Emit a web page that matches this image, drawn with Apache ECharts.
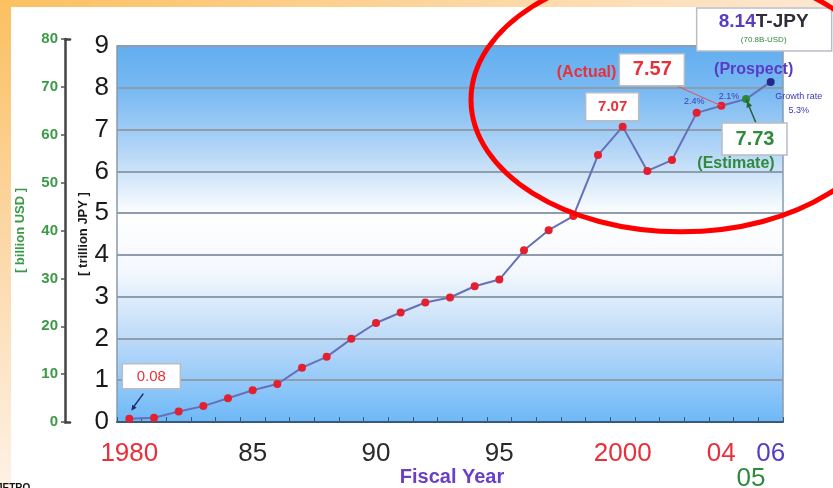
<!DOCTYPE html>
<html>
<head>
<meta charset="utf-8">
<script src="https://cdn.jsdelivr.net/npm/echarts@6/dist/echarts.min.js"></script>
<style>
html, body { margin: 0; padding: 0; background: #fff; }
#chart { width: 833px; height: 488px; }
</style>
</head>
<body>
<div id="chart"></div>
<script>
// Fiscal years and sales (trillion JPY)
const years = ['1980','1981','1982','1983','1984','1985','1986','1987','1988','1989',
               '1990','1991','1992','1993','1994','1995','1996','1997','1998','1999',
               '2000','2001','2002','2003','2004','2005','2006'];
const sales = [0.08, 0.10, 0.25, 0.38, 0.57, 0.76, 0.91, 1.30, 1.56, 1.99,
               2.37, 2.62, 2.86, 2.98, 3.25, 3.41, 4.11, 4.59, 4.93, 6.39,
               7.07, 6.01, 6.27, 7.40, 7.57, 7.73, 8.14];
const estimateYear = '2005';
const prospectYear = '2006';

// Year tick labels along the bottom and their colour style
const tickYears = ['1980', '1985', '1990', '1995', '2000', '2004', '2005', '2006'];
const tickText  = ['1980', '85', '90', '95', '2000', '04', '05', '06'];
const tickStyle = ['r', 'k', 'k', 'k', 'r', 'r', 'g', 'p'];

// Left-hand scales
const jpyMax = 9;
const usdMax = 80;

// Callouts
const prospectUsd = '(70.8B-USD)';
const growthRates = ['2.4%', '2.1%', '5.3%'];

const FONT = '"Liberation Sans", Arial, sans-serif';
const RED = '#e8303a';
const GREEN = '#2f8a3c';
const PURPLE = '#5a3cc4';

const chart = echarts.init(document.getElementById('chart'), null, { renderer: 'canvas' });

const pointColor = (y) => y === estimateYear ? '#2a8a3a' : (y === prospectYear ? '#26288c' : '#e4202e');

const option = {
  animation: false,
  backgroundColor: '#ffffff',
  textStyle: { fontFamily: FONT },
  grid: [
    {
      left: 117, right: 50, top: 46, bottom: 66,
      outerBoundsMode: 'none',
      containLabel: false,
      show: true,
      borderColor: '#8a9aaa',
      borderWidth: 1.5,
      backgroundColor: {
        type: 'linear', x: 0, y: 0, x2: 0, y2: 1,
        colorStops: [
          { offset: 0, color: '#62aef0' },
          { offset: 0.12, color: '#78b9f2' },
          { offset: 0.28, color: '#b4d6f6' },
          { offset: 0.45, color: '#ffffff' },
          { offset: 0.6, color: '#f4f8fe' },
          { offset: 0.78, color: '#bcdaf8' },
          { offset: 1, color: '#6cb8f8' }
        ]
      }
    },
    { left: 65, width: 5, top: 39, bottom: 66, outerBoundsMode: 'none', containLabel: false }
  ],
  xAxis: [
    {
      type: 'category',
      gridIndex: 0,
      data: years,
      boundaryGap: true,
      axisLine: { lineStyle: { color: '#3b5878', width: 2 } },
      axisTick: { show: true, inside: true, length: 5, interval: 0, lineStyle: { color: '#3b5878', width: 1 } },
      axisLabel: {
        interval: 0,
        margin: 19,
        formatter: (v) => {
          const k = tickYears.indexOf(v);
          return k < 0 ? '' : '{' + tickStyle[k] + '|' + tickText[k] + '}';
        },
        rich: {
          r: { color: RED, fontSize: 26, fontFamily: FONT },
          k: { color: '#2a2a2a', fontSize: 26, fontFamily: FONT },
          g: { color: GREEN, fontSize: 26, fontFamily: FONT, padding: [25, 0, 0, 10] },
          p: { color: PURPLE, fontSize: 26, fontFamily: FONT }
        }
      },
      name: 'Fiscal Year',
      nameLocation: 'middle',
      nameGap: 45,
      nameMoveOverlap: false,
      nameTextStyle: { color: '#6a3ec8', fontSize: 20, fontWeight: 'bold', fontFamily: FONT, padding: [0, 0, 0, 4] }
    },
    {
      type: 'value', gridIndex: 1, position: 'bottom',
      axisLine: { show: true, onZero: false, lineStyle: { color: '#444', width: 2.5 } },
      axisTick: { show: false }, axisLabel: { show: false }, splitLine: { show: false }
    },
    {
      type: 'value', gridIndex: 1, position: 'top',
      axisLine: { show: true, onZero: false, lineStyle: { color: '#444', width: 2.5 } },
      axisTick: { show: false }, axisLabel: { show: false }, splitLine: { show: false }
    }
  ],
  yAxis: [
    {
      type: 'value',
      gridIndex: 0,
      min: 0, max: jpyMax, interval: 1,
      axisLine: { show: false },
      axisTick: { show: false },
      axisLabel: { color: '#1a1a1a', fontSize: 26, margin: 8, fontFamily: FONT },
      splitLine: { lineStyle: { color: '#8e9cab', width: 2 } },
      name: '[ trillion JPY ]',
      nameLocation: 'middle',
      nameRotate: 90,
      nameGap: 27,
      nameMoveOverlap: false,
      nameTextStyle: { color: '#1a1a1a', fontSize: 13, fontWeight: 'bold', fontFamily: FONT }
    },
    {
      type: 'value',
      gridIndex: 1,
      position: 'left',
      min: 0, max: usdMax, interval: 10,
      axisLine: { show: true, onZero: false, lineStyle: { color: '#444', width: 2.5 } },
      axisTick: { show: true, length: 4, lineStyle: { color: '#555', width: 1.5 } },
      axisLabel: { color: '#3c9a46', fontSize: 15, fontWeight: 'bold', margin: 7, fontFamily: FONT },
      splitLine: { show: false },
      name: '[ billion USD ]',
      nameLocation: 'middle',
      nameRotate: 90,
      nameGap: 38,
      nameMoveOverlap: false,
      nameTextStyle: { color: '#3c9a46', fontSize: 13, fontWeight: 'bold', fontFamily: FONT }
    }
  ],
  series: [
    {
      type: 'line',
      xAxisIndex: 0,
      yAxisIndex: 0,
      data: sales.map((v, i) => ({ value: v, itemStyle: { color: pointColor(years[i]) } })),
      symbol: 'circle',
      symbolSize: 8,
      lineStyle: { color: '#6670b8', width: 2 },
      itemStyle: { borderWidth: 0 },
      z: 5
    }
  ]
};

chart.setOption(option);

// Callouts placed relative to the plotted points
function pt(year) {
  const i = years.indexOf(year);
  return chart.convertToPixel({ gridIndex: 0 }, [year, sales[i]]);
}
function box(x, y, w, h) {
  return { type: 'rect', shape: { x: x, y: y, width: w, height: h },
           style: { fill: '#ffffff', stroke: '#b8bcc4', lineWidth: 1.5 }, z: 20 };
}
function label(x, y, text, fill, size, weight, align) {
  return { type: 'text', x: x, y: y, z: 21,
           style: { text: text, fill: fill, font: (weight || 'bold') + ' ' + size + 'px ' + FONT,
                    align: align || 'center', verticalAlign: 'middle' } };
}
function line(x1, y1, x2, y2, color, w) {
  return { type: 'line', shape: { x1: x1, y1: y1, x2: x2, y2: y2 }, z: 19,
           style: { stroke: color, lineWidth: w || 1.5 } };
}
function head(x, y, fromX, fromY, color, size) {
  const a = Math.atan2(y - fromY, x - fromX);
  const s = size || 6;
  return { type: 'polygon', z: 22,
           shape: { points: [[x, y],
                             [x - s * Math.cos(a - 0.45), y - s * Math.sin(a - 0.45)],
                             [x - s * Math.cos(a + 0.45), y - s * Math.sin(a + 0.45)]] },
           style: { fill: color } };
}

const p80 = pt('1980');
const p00 = pt('2000');
const p02 = pt('2002');
const p03 = pt('2003');
const p04 = pt('2004');
const p05 = pt('2005');
const p06 = pt('2006');

const fmt = (v) => v.toFixed(2);

const graphic = [
  // page frame tint
  { type: 'rect', shape: { x: 0, y: 0, width: 833, height: 7 }, z: -10, silent: true,
    style: { fill: { type: 'linear', x: 0, y: 0, x2: 1, y2: 0,
      colorStops: [{ offset: 0, color: '#fbc060' }, { offset: 0.5, color: '#fcd49a' }, { offset: 1, color: '#fde8d2' }] } } },
  { type: 'rect', shape: { x: 0, y: 0, width: 11, height: 488 }, z: -10, silent: true,
    style: { fill: { type: 'linear', x: 0, y: 0, x2: 0, y2: 1,
      colorStops: [{ offset: 0, color: '#fbc060' }, { offset: 0.5, color: '#fcd8a8' }, { offset: 1, color: '#fdf2e6' }] } } },

  // 1980 callout
  box(p80[0] - 7, p80[1] - 55, 58, 25),
  label(p80[0] + 22, p80[1] - 42, fmt(sales[0]), RED, 15, 'normal'),
  line(p80[0] + 14, p80[1] - 25, p80[0] + 3, p80[1] - 10, '#1c2c6a', 1.5),
  head(p80[0] + 2, p80[1] - 8, p80[0] + 14, p80[1] - 25, '#1c2c6a', 6),

  // 2000 peak
  box(p00[0] - 37, p00[1] - 34, 53, 28),
  label(p00[0] - 10, p00[1] - 20, fmt(sales[years.indexOf('2000')]), RED, 15),

  // 2004 actual
  line(p04[0] - 54, p04[1] - 24, p04[0], p04[1], '#e05060', 1),
  box(p04[0] - 102, p04[1] - 52, 65, 32),
  label(p04[0] - 69, p04[1] - 36, fmt(sales[years.indexOf('2004')]), RED, 20),
  label(p04[0] - 105, p04[1] - 33, '(Actual)', RED, 16, 'bold', 'right'),
  label(p04[0] - 27, p04[1] - 4, growthRates[0], '#3a3ab8', 9, 'normal'),

  // 2005 estimate
  line(p05[0], p05[1], p05[0] + 10, p05[1] + 24, '#2a5a3a', 1.5),
  head(p05[0] + 1, p05[1] + 2, p05[0] + 10, p05[1] + 24, '#1f6a2f', 7),
  box(p05[0] - 24, p05[1] + 24, 65, 32),
  label(p05[0] + 9, p05[1] + 40, fmt(sales[years.indexOf('2005')]), GREEN, 20),
  label(p05[0] - 10, p05[1] + 65, '(Estimate)', GREEN, 16),
  label(p05[0] - 17, p05[1] - 3, growthRates[1], '#3a3ab8', 9, 'normal'),

  // 2006 prospect
  label(p06[0] - 17, p06[1] - 12, '(Prospect)', PURPLE, 16),
  box(p06[0] - 74, p06[1] - 74, 135, 43),
  { type: 'text', x: p06[0] - 7, y: p06[1] - 60, z: 21,
    style: { text: '{a|' + fmt(sales[years.indexOf('2006')]) + '}{b|T-JPY}', align: 'center', verticalAlign: 'middle',
             rich: { a: { fill: PURPLE, font: 'bold 19px ' + FONT }, b: { fill: '#2e2e3a', font: 'bold 19px ' + FONT } } } },
  label(p06[0] - 7, p06[1] - 42, prospectUsd, GREEN, 8, 'normal'),
  label(p06[0] + 28, p06[1] + 15, 'Growth rate', '#3a3ab8', 9, 'normal'),
  label(p06[0] + 28, p06[1] + 29, growthRates[2], '#3a3ab8', 9, 'normal'),

  // highlight ring around the recent years
  { type: 'ellipse', z: 30, silent: true,
    shape: { cx: p02[0] + 9, cy: p03[1] - 13, rx: 210, ry: 132 },
    style: { fill: null, stroke: '#ff0000', lineWidth: 5 } },

  // source note
  { type: 'text', x: -3, y: 483, z: 21,
    style: { text: 'JETRO', fill: '#111', font: 'bold 10px ' + FONT, align: 'left', verticalAlign: 'top' } }
];

chart.setOption({ graphic: graphic });
</script>
</body>
</html>
